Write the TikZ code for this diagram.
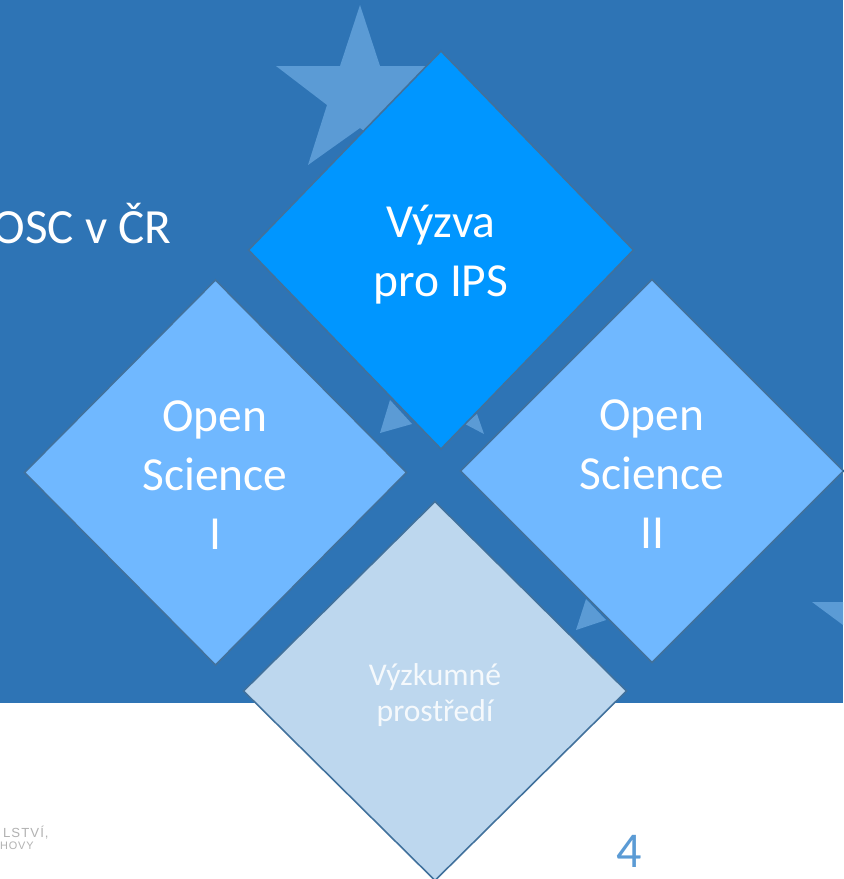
\documentclass[tikz,border=0pt]{standalone}
\usepackage{fontspec}
\setmainfont{Carlito}
\newfontfamily\logofont[LetterSpace=8]{Liberation Sans}
\usetikzlibrary{shapes.geometric}
\definecolor{slideblue}{HTML}{2E74B5}
\definecolor{starblue}{HTML}{5B9BD5}
\definecolor{edgeblue}{HTML}{41719C}
\definecolor{tipblue}{HTML}{0096FF}
\definecolor{sideblue}{HTML}{70B8FF}
\definecolor{paleblue}{HTML}{BDD7EE}
\tikzset{
  tile/.style={diamond, draw=edgeblue, line width=0.9pt, aspect=1, inner sep=0pt, outer sep=0pt},
  tiletext/.style={align=center, text=white, font=\fontsize{27}{33.5}\selectfont},
  star/.style={fill=starblue, draw=none},
  logoline/.style={anchor=base east, inner sep=0pt, text=gray!60}
}

\begin{document}
\begin{tikzpicture}[x=0.02cm, y=-0.02cm]
          % Page
          \useasboundingbox (0,0) rectangle (843,879);
          \fill[white] (0,0) rectangle (843,879);
          \fill[slideblue] (0,0) rectangle (843,703);

          % Stars
          \fill[star] (360,5) -- (380,66) -- (444,66) -- (393,105) -- (412,165) -- (360,128)
                   -- (308,165) -- (327,105) -- (276,66) -- (340,66) -- cycle;
          \fill[star] (380,433) -- (390,400) -- (412,424) -- cycle;
          \fill[star] (484,434) -- (477,414) -- (465,424) -- cycle;
          \fill[star] (576,630) -- (586,599) -- (606,620) -- cycle;
          \fill[star] (812,602) -- (843,602) -- (843,625) -- cycle;

          % Diamonds
          \node[tile, fill=tipblue, minimum width=7.7cm, minimum height=7.96cm] (vyzva) at (441,250) {};
          \node[tile, fill=sideblue, minimum width=7.64cm, minimum height=7.7cm] (osone) at (215.5,472.5) {};
          \node[tile, fill=sideblue, minimum width=7.66cm, minimum height=7.66cm] (ostwo) at (652,471) {};
          \node[tile, fill=paleblue, minimum width=7.66cm, minimum height=7.58cm] (prostredi) at (435,691) {};

          % Texts
          \node[tiletext] (vyzvatext) at (441,255) {Výzva\\pro IPS};
          \node[tiletext] (osonetext) at (215,475) {Open\\Science\\I};
          \node[tiletext] (ostwotext) at (652,474) {Open\\Science\\II};
          \node[tiletext, text=white!85!paleblue, font=\fontsize{18}{20.5}\selectfont] (prostreditext) at (435,695) {Výzkumné\\prostředí};
          \node[anchor=base east, inner sep=0pt, text=white, font=\fontsize{28}{33}\selectfont] (osc) at (172,243) {OSC v ČR};
          \node[anchor=center, inner sep=0pt, text=starblue, font=\fontsize{28.5}{34}\selectfont] (cislo) at (629,851) {4};
          \node[logoline, font=\logofont\fontsize{7.5}{9}\selectfont] (logoa) at (49,837) {LSTVÍ,};
          \node[logoline, font=\logofont\fontsize{6.2}{8}\selectfont] (logob) at (34,849) {HOVY};
        \end{tikzpicture}
\end{document}
